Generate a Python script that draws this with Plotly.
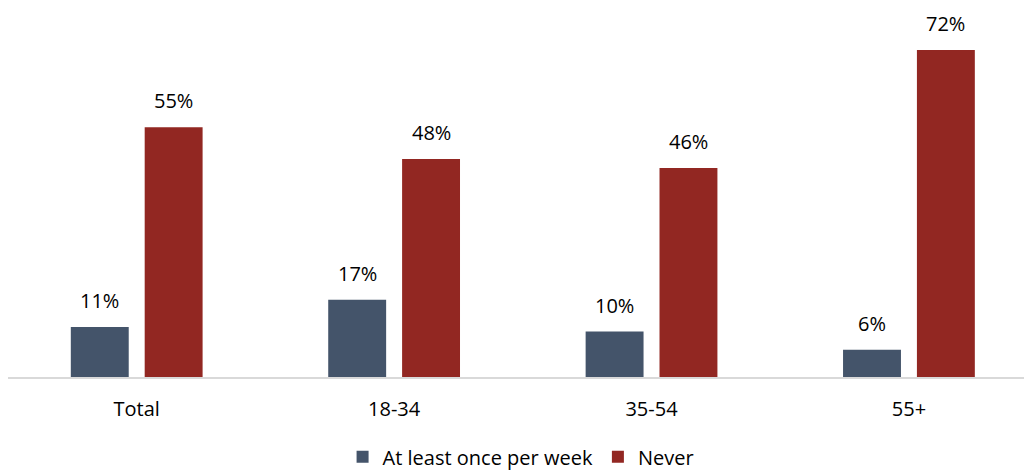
import plotly.graph_objects as go

categories = ["Total", "18-34", "35-54", "55+"]
weekly = [11, 17, 10, 6]
never = [55, 48, 46, 72]
series_names = ["At least once per week", "Never"]
colors = ["#44546A", "#922722"]

FONT = "Open Sans, Lato, sans-serif"
bar_w = 0.225
off = 0.1435

fig = go.Figure()
for name, vals, col, sign in [(series_names[0], weekly, colors[0], -1), (series_names[1], never, colors[1], 1)]:
    fig.add_trace(go.Bar(
        x=categories, y=vals, name=name, marker_color=col,
        width=bar_w, offset=sign * off - bar_w / 2,
        marker_line_width=0,
    ))
    for c, v in zip(categories, vals):
        fig.add_annotation(
            x=c, y=v, xref="x", yref="y", text=f"{v}%", showarrow=False,
            xshift=sign * 37, yshift=11, yanchor="bottom",
            font=dict(family=FONT, size=20, color="#000000"),
        )

fig.update_layout(
    width=1024, height=471,
    margin=dict(l=8, r=0, t=20, b=94),
    paper_bgcolor="white", plot_bgcolor="white",
    barmode="overlay",
    showlegend=True,
    legend=dict(orientation="h", x=0.505, xanchor="center", yref="container", y=0.03, yanchor="middle",
                font=dict(family=FONT, size=20, color="#000000"),
                itemwidth=30, traceorder="normal"),
    font=dict(family=FONT, size=20, color="#000000"),
)
fig.update_xaxes(
    type="category", range=[-0.5, 3.447],
    showline=True, linecolor="#D9D9D9", linewidth=2,
    ticks="outside", ticklen=13, tickcolor="rgba(0,0,0,0)",
    tickfont=dict(family=FONT, size=20, color="#000000"),
    showgrid=False,
)
fig.update_yaxes(range=[0, 78.6], visible=False, showgrid=False)

fig.write_html("out.html")
